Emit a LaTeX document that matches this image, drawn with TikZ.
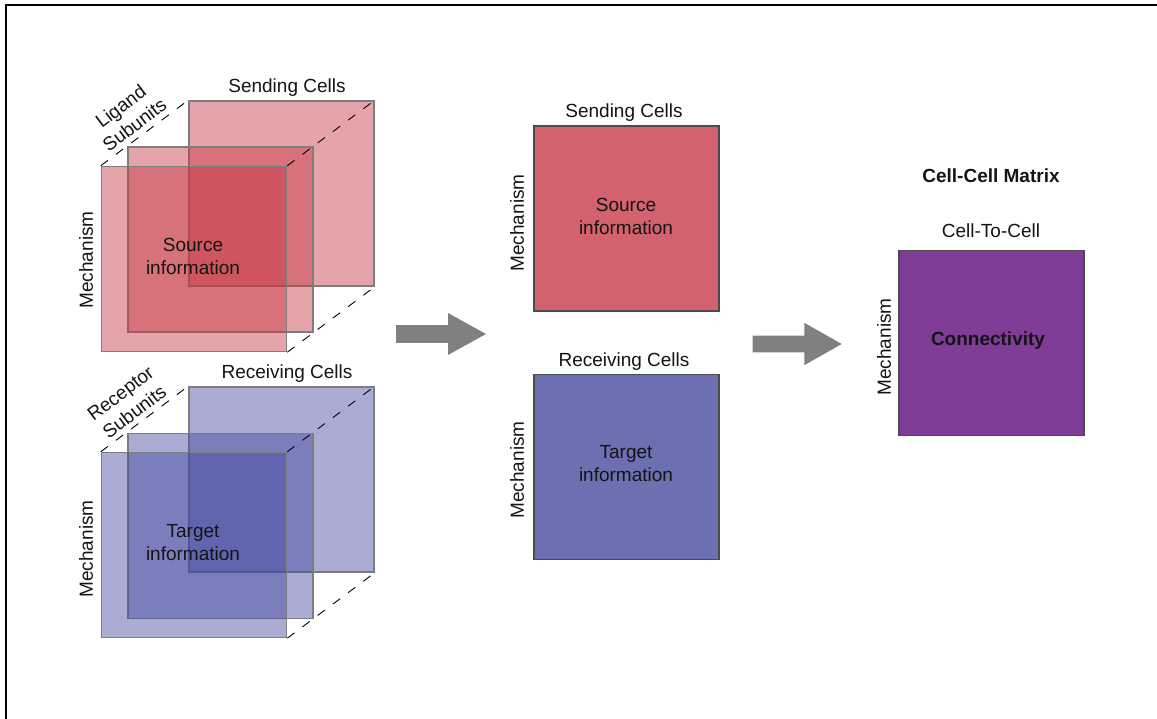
\documentclass[tikz,border=0pt]{standalone}
\usepackage{fontspec}
\setmainfont{Liberation Sans}
\definecolor{redplane}{RGB}{197,53,66}
\definecolor{blueplane}{RGB}{66,70,159}
\definecolor{edgegray}{RGB}{125,125,125}
\definecolor{srcred}{RGB}{211,98,110}
\definecolor{tgtblue}{RGB}{108,111,176}
\definecolor{conpurple}{RGB}{128,61,149}
\definecolor{boxedge}{RGB}{75,75,75}
\definecolor{arrowgray}{RGB}{128,128,128}
\definecolor{txt}{RGB}{20,20,20}
\begin{document}
\begin{tikzpicture}[x=1pt,y=-1pt,
  every node/.style={text=txt, font=\fontsize{19}{23}\selectfont, inner sep=0pt, align=center},
  plane/.style={rectangle, draw=edgegray, line width=1.5pt, fill opacity=0.45, minimum width=185pt, minimum height=185pt},
  redp/.style={plane, fill=redplane},
  bluep/.style={plane, fill=blueplane},
  matbox/.style={rectangle, draw=boxedge, line width=1.5pt, minimum width=185pt, minimum height=185pt},
  axislabel/.style={rotate=90},
  depthlabel/.style={rotate=37},
  boldlabel/.style={font=\fontsize{19}{23}\selectfont\bfseries},
  depthline/.style={draw=black, line width=0.9pt, dash pattern=on 9pt off 10pt},
  blockarrow/.style={fill=arrowgray},
  frameline/.style={draw=black, line width=2.2pt}
]
\useasboundingbox (0,0) rectangle (1157,719);
\coordinate (fa) at (1157,5);
\coordinate (fb) at (6,5);
\coordinate (fc) at (6,719);
\draw[frameline] (fa) -- (fb) -- (fc);

% ---- top stack (ligand) ----
\node[redp] (sb) at (281.5,193.5) {};
\node[redp] (sm) at (220.5,239.5) {};
\node[redp] (sf) at (194,259) {};
\draw[depthline] (sf.north west) -- (sb.north west);
\draw[depthline] (sf.north east) -- (sb.north east);
\draw[depthline] (sf.south east) -- (sb.south east);
\node (sendlbl) at (287,88) {Sending Cells};
\node[depthlabel] (liglbl) at (127.5,115.5) {Ligand\\Subunits};
\node[axislabel] (mech1) at (86,260) {Mechanism};
\node (srcinfo1) at (193,256) {Source\\information};

% ---- bottom stack (receptor) ----
\node[bluep] (rb) at (281.5,479.5) {};
\node[bluep] (rm) at (220.5,526) {};
\node[bluep] (rf) at (194,545) {};
\draw[depthline] (rf.north west) -- (rb.north west);
\draw[depthline] (rf.north east) -- (rb.north east);
\draw[depthline] (rf.south east) -- (rb.south east);
\node (recvlbl) at (287,374) {Receiving Cells};
\node[depthlabel] (reclbl) at (127.5,402.5) {Receptor\\Subunits};
\node[axislabel] (mech2) at (86,549) {Mechanism};
\node (tgtinfo1) at (193,543) {Target\\information};

% ---- arrow 1 ----
\coordinate (a1) at (396,334);
\fill[blockarrow] (a1) ++(0,-8.8) -- ++(52,0) -- ++(0,-12.2) -- ++(38,21) -- ++(-38,21) -- ++(0,-12.2) -- ++(-52,0) -- cycle;

% ---- middle matrices ----
\node[matbox, fill=srcred] (src) at (626.5,218.5) {};
\node (sendlbl2) at (624,113) {Sending Cells};
\node[axislabel] (mech3) at (517,223) {Mechanism};
\node (srcinfo2) at (626,216) {Source\\information};

\node[matbox, fill=tgtblue] (tgt) at (626.5,467) {};
\node (recvlbl2) at (624,362) {Receiving Cells};
\node[axislabel] (mech4) at (517,470) {Mechanism};
\node (tgtinfo2) at (626,464) {Target\\information};

% ---- arrow 2 ----
\coordinate (a2) at (752.7,344);
\fill[blockarrow] (a2) ++(0,-8.3) -- ++(51.6,0) -- ++(0,-12.9) -- ++(37.4,21.2) -- ++(-37.4,21.2) -- ++(0,-12.9) -- ++(-51.6,0) -- cycle;

% ---- cell-cell matrix ----
\node[boldlabel] (cctitle) at (991,176) {Cell-Cell Matrix};
\node (c2c) at (991,231) {Cell-To-Cell};
\node[matbox, fill=conpurple] (conn) at (991.5,343.2) {};
\node[axislabel] (mech5) at (884,347) {Mechanism};
\node[boldlabel] (connlbl) at (988,341) {Connectivity};
\end{tikzpicture}
\end{document}
